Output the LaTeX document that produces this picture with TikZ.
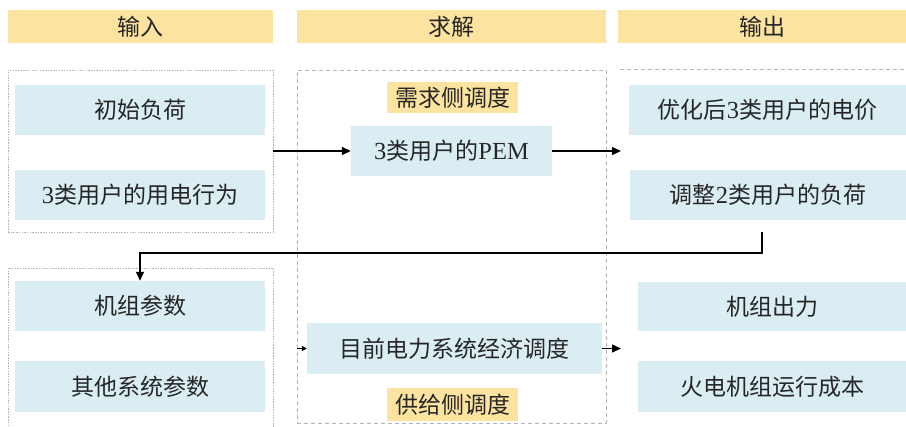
\documentclass[tikz,border=0pt]{standalone}
\usepackage{fontspec}
\setmainfont{Liberation Serif}
\newfontfamily\cjk{Noto Sans CJK SC}
\newfontfamily\latnfam{Liberation Serif}
\newcommand\latn{\latnfam\fontsize{24.5}{25}\selectfont}
\usetikzlibrary{arrows.meta}
\definecolor{hdr}{HTML}{FCE3A0}
\definecolor{blu}{HTML}{DAEDF3}
\definecolor{txt}{HTML}{262626}
\definecolor{frm}{HTML}{B4B4B4}
\begin{document}
\begin{tikzpicture}[x=1pt,y=-1pt,
  txtfont/.style={text=txt, font=\cjk\fontsize{23}{25}\selectfont},
  box/.style={fill=blu, inner sep=0pt, txtfont},
  hdrbox/.style={fill=hdr, inner sep=0pt, txtfont},
  finedash/.style={draw=frm, line width=0.8pt, dash pattern=on 1.5pt off 1.2pt},
  coarsedash/.style={draw=frm, line width=0.8pt, dash pattern=on 4pt off 3pt},
  conn/.style={draw=black, line width=1.3pt, -{Triangle[length=9pt,width=8pt]}},
  smallconn/.style={draw=black, line width=1pt, -{Triangle[length=5pt,width=5pt]}}]
\useasboundingbox (0,0) rectangle (906,427);

% headers
\node[hdrbox, minimum width=265pt, minimum height=33pt] (h1) at (140.5,26.5) {输入};
\node[hdrbox, minimum width=309pt, minimum height=33pt] (h2) at (451.5,26.5) {求解};
\node[hdrbox, minimum width=288pt, minimum height=33pt] (h3) at (762,26.5) {输出};

% frames
\node[finedash, inner sep=0pt, minimum width=265pt, minimum height=162pt] (fin) at (140.5,151) {};
\node[finedash, inner sep=0pt, minimum width=265pt, minimum height=172pt] (fin2) at (140.5,354) {};
\node[coarsedash, inner sep=0pt, minimum width=309pt, minimum height=353pt] (fsol) at (451.5,246.5) {};
\coordinate (ol) at (620,69);
\coordinate (or) at (906,69);
\draw[coarsedash] (ol) -- (or);

% input boxes
\node[box, minimum width=250pt, minimum height=50pt] (b1) at (140,110) {初始负荷};
\node[box, minimum width=250pt, minimum height=50pt] (b2) at (140,195) {{\latn 3}类用户的用电行为};
\node[box, minimum width=250pt, minimum height=50pt] (b3) at (140,306) {机组参数};
\node[box, minimum width=250pt, minimum height=51pt] (b4) at (140,386.5) {其他系统参数};

% solve boxes
\node[hdrbox, minimum width=131pt, minimum height=31pt] (y1) at (452.5,97.5) {需求侧调度};
\node[box, minimum width=201pt, minimum height=50pt] (pem) at (451.5,151) {{\latn 3}类用户的{\latn PEM}};
\node[box, minimum width=295pt, minimum height=51pt] (ed) at (454.5,348.5) {目前电力系统经济调度};
\node[hdrbox, minimum width=131pt, minimum height=33pt] (y2) at (452.5,404.5) {供给侧调度};

% output boxes
\node[box, minimum width=277pt, minimum height=50pt] (o1) at (767.5,110) {优化后{\latn 3}类用户的电价};
\node[box, minimum width=276pt, minimum height=50pt] (o2) at (768,195) {调整{\latn 2}类用户的负荷};
\node[box, minimum width=268pt, minimum height=49pt] (o3) at (772,306.5) {机组出力};
\node[box, minimum width=268pt, minimum height=51pt] (o4) at (772,386.5) {火电机组运行成本};

% connectors
\coordinate (oin1) at (621,151);
\coordinate (oin2) at (621,348.5);
\coordinate (d0) at (762,232);
\coordinate (d1) at (140,253);
\coordinate (s0) at (297,348.5);
\draw[conn] (fin.east) -- (pem.west);
\draw[conn] (pem.east) -- (oin1);
\draw[conn] (d0) |- (d1) -- (b3.north);
\draw[smallconn] (s0) -- (ed.west);
\draw[conn] (ed.east) -- (oin2);
\end{tikzpicture}
\end{document}
